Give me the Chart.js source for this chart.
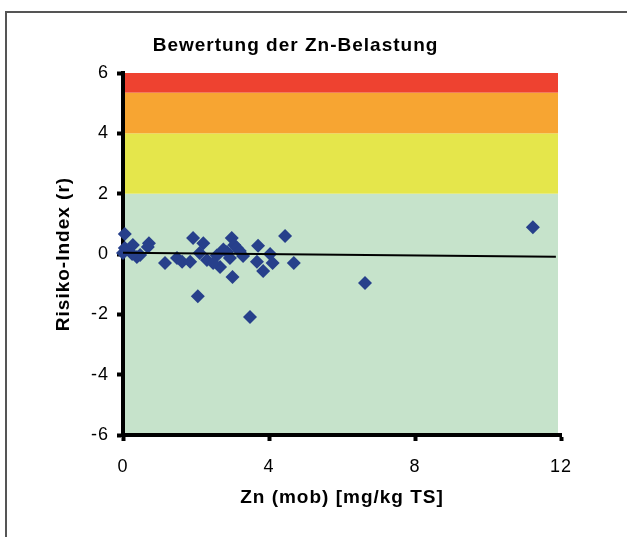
<!DOCTYPE html>
<html>
<head>
<meta charset="utf-8">
<script src="https://cdn.jsdelivr.net/npm/chart.js@4.4.1/dist/chart.umd.min.js"></script>
<style>
  html, body { margin: 0; padding: 0; background: #fff; overflow: hidden; }
  #frame { position: absolute; left: 5px; top: 11px; width: 680px; height: 600px; border: 2px solid #555; }
  #wrap { position: absolute; left: 0; top: 0; width: 627px; height: 537px; }
</style>
</head>
<body>
<div id="frame"></div>
<div id="wrap"><canvas id="chart"></canvas></div>
<script>
// measured points: Zn (mob) vs. risk index
const znMob = [0.05, 0.05, 0.0, 0.27, 0.47, 0.71, 0.38, 0.68, 0.25, 1.15,
  1.48, 1.62, 1.84, 1.92, 2.2, 2.05, 2.1, 2.3, 2.57, 2.66,
  2.47, 2.98, 3.05, 3.12, 2.85, 2.93, 3.0, 3.29, 3.48, 3.7,
  3.67, 4.03, 3.84, 4.1, 4.44, 4.68, 6.63, 11.23, 2.75, 3.2];
const risk = [0.66, 0.2, 0.03, 0.3, -0.03, 0.36, -0.1, 0.23, 0.0, -0.3,
  -0.13, -0.26, -0.26, 0.53, 0.36, -1.4, 0.03, -0.2, -0.05, -0.43,
  -0.3, 0.53, 0.3, 0.2, 0.07, -0.13, -0.76, -0.07, -2.09, 0.27,
  -0.26, 0.0, -0.56, -0.3, 0.6, -0.3, -0.96, 0.89, 0.15, 0.1];

// linear trend
const trendX = [0, 11.86];
const trendY = [0.045, -0.09];

// assessment bands (risk index)
const bandFrom = [-6, 2, 4, 5.35];
const bandTo = [2, 4, 5.35, 6];
const bandColors = ['#c6e3cb', '#e5e64b', '#f7a532', '#ee4230'];

const xTicks = [0, 4, 8, 12];
const yTicks = [-6, -4, -2, 0, 2, 4, 6];

const bandsPlugin = {
  id: 'bands',
  beforeDraw(chart) {
    const { ctx, chartArea, scales } = chart;
    ctx.letterSpacing = '1px';
    ctx.save();
    bandFrom.forEach((from, i) => {
      const top = scales.y.getPixelForValue(bandTo[i]);
      const bottom = scales.y.getPixelForValue(from);
      ctx.fillStyle = bandColors[i];
      ctx.fillRect(chartArea.left, top, chartArea.right - 3 - chartArea.left, bottom - top);
    });
    ctx.restore();
  }
};

const font = 'Liberation Sans, Arial, sans-serif';

new Chart(document.getElementById('chart'), {
  type: 'scatter',
  data: {
    datasets: [
      {
        type: 'line',
        data: trendX.map((x, i) => ({ x, y: trendY[i] })),
        borderColor: '#000',
        borderWidth: 2,
        pointRadius: 0,
        fill: false,
        order: 0
      },
      {
        data: znMob.map((x, i) => ({ x, y: risk[i] })),
        pointStyle: 'rectRot',
        pointRadius: 7,
        pointHoverRadius: 7,
        backgroundColor: '#27408b',
        borderWidth: 0,
        clip: false,
        order: 1
      }
    ]
  },
  options: {
    responsive: true,
    maintainAspectRatio: false,
    animation: false,
    layout: { padding: { left: 30, right: 66, top: 0, bottom: 0 } },
    plugins: {
      legend: { display: false },
      tooltip: { enabled: false },
      title: {
        display: true,
        text: 'Bewertung der Zn-Belastung',
        color: '#000',
        font: { family: font, size: 19, weight: 'bold' },
        padding: { top: 34, bottom: 16.2 }
      }
    },
    scales: {
      x: {
        type: 'linear',
        min: 0,
        max: 12,
        afterBuildTicks: (s) => { s.ticks = xTicks.map(v => ({ value: v })); },
        afterFit: (s) => { s.height = 102; },
        border: { display: true, color: '#000', width: 4 },
        grid: { drawOnChartArea: false, drawTicks: true, tickLength: 6, tickWidth: 4, tickColor: '#000' },
        ticks: { color: '#000', font: { family: font, size: 18 }, padding: 15 },
        title: {
          display: true,
          text: 'Zn (mob) [mg/kg TS]',
          color: '#000',
          font: { family: font, size: 19, weight: 'bold' },
          padding: { top: 0, bottom: 28 }
        }
      },
      y: {
        type: 'linear',
        min: -6,
        max: 6,
        afterBuildTicks: (s) => { s.ticks = yTicks.map(v => ({ value: v })); },
        afterFit: (s) => { s.width = 93; },
        border: { display: true, color: '#000', width: 4 },
        grid: { drawOnChartArea: false, drawTicks: true, tickLength: 6, tickWidth: 4, tickColor: '#000' },
        ticks: { color: '#000', font: { family: font, size: 18 }, padding: 8 },
        title: {
          display: true,
          text: 'Risiko-Index (r)',
          color: '#000',
          font: { family: font, size: 19, weight: 'bold' },
          padding: { top: 22, bottom: 0 }
        }
      }
    }
  },
  plugins: [bandsPlugin]
});
</script>
</body>
</html>
